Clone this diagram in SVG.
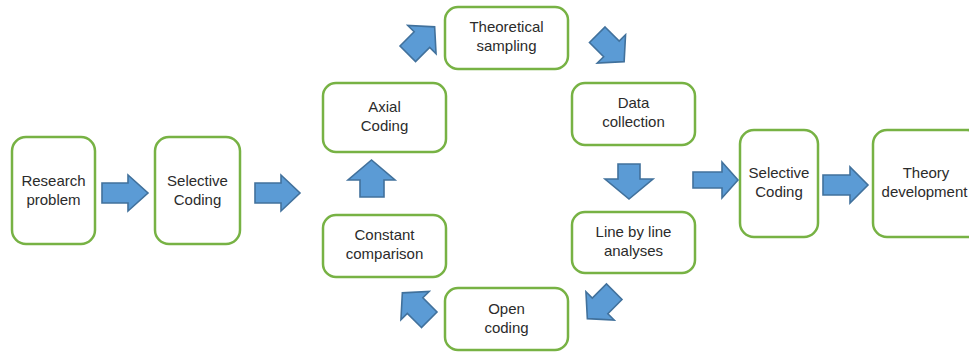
<svg xmlns="http://www.w3.org/2000/svg" width="969" height="352" viewBox="0 0 969 352">
<style>
.box{fill:#fff;stroke:#77b244;stroke-width:2.5}
.arr{fill:#5b9bd5;stroke:#41719c;stroke-width:1.6;stroke-linejoin:miter}
text{font-family:"Liberation Sans",Arial,sans-serif;font-size:15px;fill:#2b2b2b;text-anchor:middle}
</style>
<defs>
<path id="da" d="M-18,-11 H2 V-20 L20,0 L2,20 V11 H-18 Z"/>
</defs>
<rect width="969" height="352" fill="#fff"/>
<g id="n-research"><rect class="box" x="12" y="137" width="83" height="107" rx="14"/><text x="53.5" y="186">Research</text><text x="53.5" y="205">problem</text></g>
<g id="n-selective1"><rect class="box" x="155" y="137" width="85" height="107" rx="14"/><text x="197.5" y="186">Selective</text><text x="197.5" y="205">Coding</text></g>
<g id="n-axial"><rect class="box" x="323" y="83" width="123" height="69" rx="13"/><text x="384.5" y="112">Axial</text><text x="384.5" y="131">Coding</text></g>
<g id="n-constant"><rect class="box" x="323" y="215" width="123" height="62" rx="13"/><text x="384.5" y="240">Constant</text><text x="384.5" y="259">comparison</text></g>
<g id="n-theoretical"><rect class="box" x="445" y="7" width="123" height="62" rx="13"/><text x="506.5" y="32">Theoretical</text><text x="506.5" y="51">sampling</text></g>
<g id="n-data"><rect class="box" x="572" y="83" width="123" height="62" rx="13"/><text x="633.5" y="108">Data</text><text x="633.5" y="127">collection</text></g>
<g id="n-line"><rect class="box" x="572" y="212" width="123" height="61" rx="13"/><text x="633.5" y="237">Line by line</text><text x="633.5" y="256">analyses</text></g>
<g id="n-open"><rect class="box" x="445" y="288" width="123" height="62" rx="13"/><text x="506.5" y="314">Open</text><text x="506.5" y="333">coding</text></g>
<g id="n-selective2"><rect class="box" x="740" y="130" width="78" height="107" rx="14"/><text x="779" y="178">Selective</text><text x="779" y="197">Coding</text></g>
<g id="n-theory"><rect class="box" x="873" y="130" width="108" height="107" rx="14"/><text x="926" y="178">Theory</text><text x="924.5" y="197">development</text></g>
<g id="connectors">
<path class="arr" d="M102,183 H128 V175 L148,193 L128,211 V203 H102 Z"/>
<path class="arr" d="M255,183 H281 V175 L300,193 L281,211 V203 H255 Z"/>
<path class="arr" d="M360,197 V180 H348 L371.5,160 L395,180 H384 V197 Z"/>
<path class="arr" d="M618,164 H640 V179 H653 L629,199 L605,179 H618 Z"/>
<path class="arr" d="M693,172 H722 V162 L738,180 L722,198 V188 H693 Z"/>
<path class="arr" d="M823,175 H850 V167 L868,185 L850,203 V195 H823 Z"/>
<use href="#da" class="arr" transform="translate(420.5,41) rotate(-45)"/>
<use href="#da" class="arr" transform="translate(610,47.5) rotate(45)"/>
<use href="#da" class="arr" transform="translate(601.5,304.5) rotate(135)"/>
<use href="#da" class="arr" transform="translate(416.5,307) rotate(-135)"/>
</g>
</svg>
